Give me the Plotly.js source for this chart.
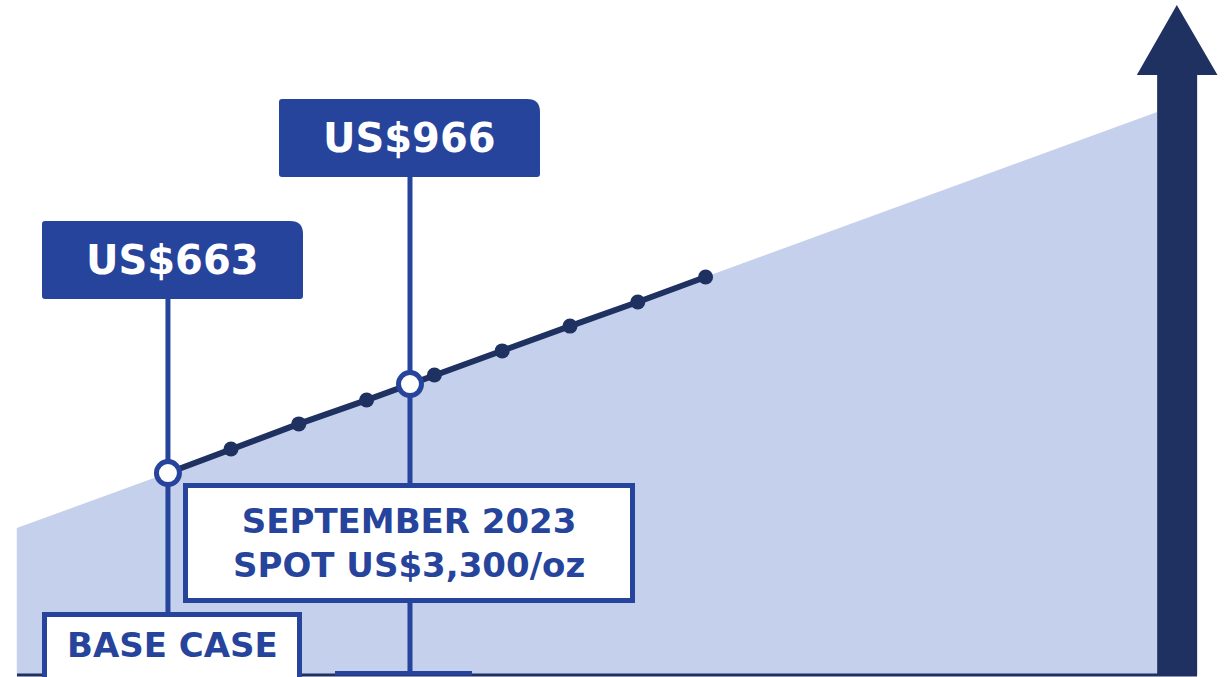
<!DOCTYPE html>
<html>
<head>
<meta charset="utf-8">
<script src="https://cdn.plot.ly/plotly-3.0.1.min.js"></script>
<style>html,body{margin:0;padding:0;background:#fff;}#chart{width:1230px;height:677px;}</style>
</head>
<body>
<div id="chart"></div>
<script>
// ---- data (abstract step units) ----
const stepX = [1, 2, 3, 4, 5, 6, 7, 8];
const stepY = [9.20, 10.22, 11.19, 12.21, 13.19, 14.20, 15.18, 16.20];
const keyX = [0.07, 3.64];
const keyY = [8.22, 11.84];
const keyValues = ['US$663', 'US$966'];
const keyLabels = ['BASE CASE', 'SEPTEMBER 2023<br>SPOT US$3,300/oz'];
const areaX = [-2.16, -2.16, 14.66, 14.66];
const areaY = [0, 5.98, 22.91, 0];
const arrowX = [14.66, 14.66, 14.36, 14.95, 15.55, 15.25, 15.25];
const arrowY = [0, 24.42, 24.42, 27.27, 24.42, 24.42, 0];

// ---- scale helpers (pixel -> axis units) for decorations ----
const PX0 = 163.2, PXS = 67.8, PY0 = 675, PYS = 24.57;
const X = px => (px - PX0) / PXS;
const Y = py => (PY0 - py) / PYS;

const BLUE = '#26449b', NAVY = '#1f3160', AREA = '#c5d1ec';
const FONT = 'DejaVu Sans';

function boxPath(x0, y0, x1, y1, rTR, r) {
  const p = [];
  p.push('M' + X(x0 + r) + ',' + Y(y0));
  p.push('L' + X(x1 - rTR) + ',' + Y(y0));
  p.push('Q' + X(x1) + ',' + Y(y0) + ' ' + X(x1) + ',' + Y(y0 + rTR));
  p.push('L' + X(x1) + ',' + Y(y1 - r));
  p.push('Q' + X(x1) + ',' + Y(y1) + ' ' + X(x1 - r) + ',' + Y(y1));
  p.push('L' + X(x0 + r) + ',' + Y(y1));
  p.push('Q' + X(x0) + ',' + Y(y1) + ' ' + X(x0) + ',' + Y(y1 - r));
  p.push('L' + X(x0) + ',' + Y(y0 + r));
  p.push('Q' + X(x0) + ',' + Y(y0) + ' ' + X(x0 + r) + ',' + Y(y0));
  p.push('Z');
  return p.join(' ');
}

const lineX = [keyX[0]].concat(stepX);
const lineY = [keyY[0]].concat(stepY);

const traces = [
  {x: areaX, y: areaY, type: 'scatter', mode: 'lines', fill: 'toself', fillcolor: AREA,
   line: {width: 0, color: AREA}, hoverinfo: 'skip'},
  {x: arrowX, y: arrowY, type: 'scatter', mode: 'lines', fill: 'toself', fillcolor: NAVY,
   line: {width: 0, color: NAVY}, hoverinfo: 'skip'},
  {x: [keyX[0], keyX[0]], y: [Y(299), Y(612)], type: 'scatter', mode: 'lines',
   line: {width: 5, color: BLUE}, hoverinfo: 'skip'},
  {x: [keyX[1], keyX[1]], y: [Y(177), Y(675)], type: 'scatter', mode: 'lines',
   line: {width: 5, color: BLUE}, hoverinfo: 'skip'},
  {x: lineX, y: lineY, type: 'scatter', mode: 'lines', line: {width: 6, color: NAVY}, hoverinfo: 'skip'},
  {x: stepX, y: stepY, type: 'scatter', mode: 'markers', marker: {size: 15, color: NAVY}, hoverinfo: 'skip'},
  {x: keyX, y: keyY, type: 'scatter', mode: 'markers',
   marker: {size: 23, color: '#ffffff', line: {width: 5, color: BLUE}}, hoverinfo: 'skip'}
];

const shapes = [
  {type: 'line', xref: 'x', yref: 'y', x0: X(17), x1: X(1197), y0: 0, y1: 0,
   line: {color: NAVY, width: 3}, layer: 'above'},
  {type: 'rect', xref: 'x', yref: 'y', x0: X(335), x1: X(472), y0: Y(671), y1: Y(675.5),
   fillcolor: BLUE, line: {width: 0}, layer: 'above'},
  {type: 'rect', xref: 'x', yref: 'y', x0: X(185.5), x1: X(632.5), y0: Y(485.5), y1: Y(600.5),
   fillcolor: '#ffffff', line: {color: BLUE, width: 5}, layer: 'above'},
  {type: 'rect', xref: 'x', yref: 'y', x0: X(44.5), x1: X(299.5), y0: Y(614.5), y1: Y(700),
   fillcolor: '#ffffff', line: {color: BLUE, width: 5}, layer: 'above'},
  {type: 'path', xref: 'x', yref: 'y', path: boxPath(42, 221, 303, 299, 13, 3),
   fillcolor: BLUE, line: {width: 0}, layer: 'above'},
  {type: 'path', xref: 'x', yref: 'y', path: boxPath(279, 99, 540, 177, 13, 3),
   fillcolor: BLUE, line: {width: 0}, layer: 'above'}
];

const annotations = [
  {x: X(172.5), y: Y(260), text: keyValues[0]},
  {x: X(409.5), y: Y(138), text: keyValues[1]}
].map(a => Object.assign(a, {xref: 'x', yref: 'y', showarrow: false, xanchor: 'center', yanchor: 'middle',
  font: {family: FONT, size: 40, color: '#ffffff', weight: 700}}));

annotations.push({x: X(172), y: Y(645), text: keyLabels[0], xref: 'x', yref: 'y', showarrow: false,
  xanchor: 'center', yanchor: 'middle', font: {family: FONT, size: 34, color: BLUE, weight: 700}});
annotations.push({x: X(409), y: Y(543), text: keyLabels[1], xref: 'x', yref: 'y', showarrow: false,
  xanchor: 'center', yanchor: 'middle', font: {family: FONT, size: 34, color: BLUE, weight: 700}});

const layout = {
  width: 1230, height: 677,
  margin: {l: 0, r: 0, t: 0, b: 0},
  paper_bgcolor: '#ffffff', plot_bgcolor: '#ffffff',
  showlegend: false,
  xaxis: {range: [X(0), X(1230)], visible: false, fixedrange: true},
  yaxis: {range: [Y(677), Y(0)], visible: false, fixedrange: true},
  shapes: shapes,
  annotations: annotations
};

Plotly.newPlot('chart', traces, layout, {staticPlot: true, displayModeBar: false});
</script>
</body>
</html>
